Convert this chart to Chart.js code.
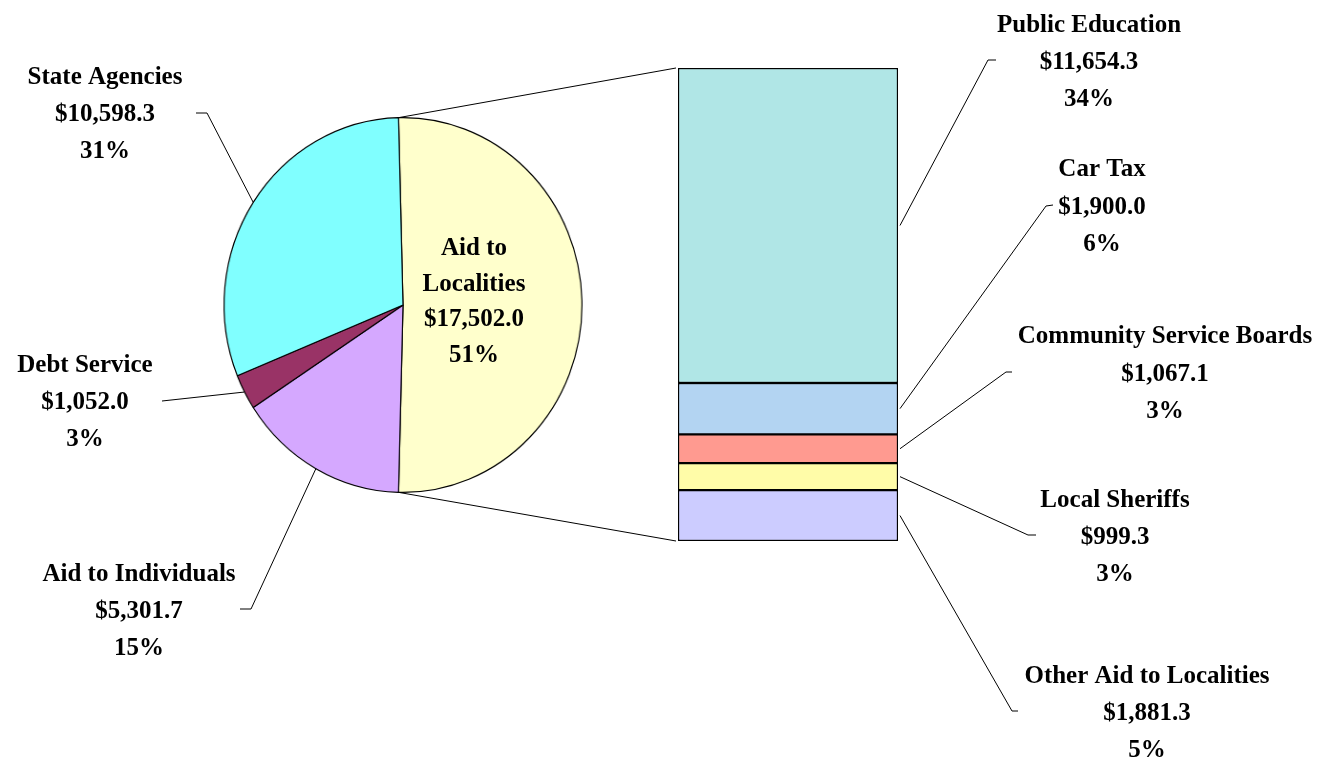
<!DOCTYPE html>
<html>
<head>
<meta charset="utf-8">
<title>Aid to Localities</title>
<script src="https://cdn.jsdelivr.net/npm/chart.js@4.4.1/dist/chart.umd.min.js"></script>
<style>
  html, body { margin: 0; padding: 0; background: #ffffff; }
  #wrap { position: relative; width: 1321px; height: 762px; overflow: hidden; }
  #wrap canvas { position: absolute; left: 0; top: 0; }
  /* el pie del original es un poco más alto que ancho */
  #pieChart { transform: scaleX(0.955); transform-origin: 403px 0; }
</style>
</head>
<body>
<div id="wrap">
  <canvas id="pieChart" width="1321" height="762"></canvas>
  <canvas id="barChart" width="1321" height="762"></canvas>
</div>
<script>
// ---- datos ----
const pieLabels = ["Aid to Localities", "Aid to Individuals", "Debt Service", "State Agencies"];
const pieValues = [17502.0, 5301.7, 1052.0, 10598.3];
const pieColors = ["#FFFFCC", "#D5A8FF", "#993366", "#80FFFF"];

// barra: de arriba hacia abajo, tal como se ve
const barLabels = ["Public Education", "Car Tax", "Community Service Boards", "Local Sheriffs", "Other Aid to Localities"];
const barValues = [11654.3, 1900.0, 1067.1, 999.3, 1881.3];
const barColors = ["#B0E6E6", "#B3D4F2", "#FF9A90", "#FFFCA8", "#CCCCFF"];

const PIE_SCALE_X = 0.955;
const FONT = "bold 25px 'Liberation Serif', 'Times New Roman', serif";

const grandTotal = pieValues.reduce((a, b) => a + b, 0);
const barTotal = barValues.reduce((a, b) => a + b, 0);

function money(v) {
  return "$" + v.toLocaleString("en-US", { minimumFractionDigits: 1, maximumFractionDigits: 1 });
}
function pct(v) {
  return Math.round((v / grandTotal) * 100) + "%";
}

// posición de los textos (centro x, línea base de la primera línea) y del codo de cada guía
const pieLabelPos = [
  { x: 474, y: 255, lh: 35.7, lines: ["Aid to", "Localities"], leader: null },
  { x: 139, y: 581, lh: 37, leader: [[240, 609], [251, 609]] },
  { x: 85, y: 372, lh: 37, leader: [[162, 401]] },
  { x: 105, y: 84, lh: 37, leader: [[196, 113], [207, 113]] },
];
const barLabelPos = [
  { x: 1089, y: 32, lh: 37, leader: [[996, 60], [988, 60]] },
  { x: 1102, y: 176, lh: 37.5, leader: [[1053, 205], [1046, 206]] },
  { x: 1165, y: 343, lh: 37.5, leader: [[1012, 372], [1006, 372]] },
  { x: 1115, y: 507, lh: 37, leader: [[1036, 535], [1028, 535]] },
  { x: 1147, y: 683, lh: 37, leader: [[1018, 711], [1012, 711]] },
];

// ---- pie ----
const aidShare = pieValues[0] / grandTotal;
const pieChart = new Chart(document.getElementById("pieChart"), {
  type: "pie",
  data: {
    labels: pieLabels,
    datasets: [{
      data: pieValues,
      backgroundColor: pieColors,
      borderColor: "#000000",
      borderWidth: 1.2,
    }],
  },
  options: {
    responsive: false,
    animation: false,
    // el trozo "Aid to Localities" queda centrado a la derecha
    rotation: -aidShare * 180 + 90,
    layout: { padding: { left: 215, top: 117, right: 730, bottom: 269 } },
    plugins: { legend: { display: false }, tooltip: { enabled: false } },
  },
});

// transforma un punto del pie al espacio de la página (por el scaleX del css)
function piePoint(arc, angle, r) {
  return {
    x: arc.x + Math.cos(angle) * r * PIE_SCALE_X,
    y: arc.y + Math.sin(angle) * r,
  };
}

function drawLabel(ctx, pos, lines) {
  ctx.fillStyle = "#000000";
  ctx.font = FONT;
  ctx.textAlign = "center";
  ctx.textBaseline = "alphabetic";
  lines.forEach((t, i) => ctx.fillText(t, pos.x, pos.y + i * pos.lh));
}

function drawLeader(ctx, points, end) {
  ctx.beginPath();
  ctx.moveTo(points[0][0], points[0][1]);
  for (let i = 1; i < points.length; i++) ctx.lineTo(points[i][0], points[i][1]);
  ctx.lineTo(end.x, end.y);
  ctx.strokeStyle = "#000000";
  ctx.lineWidth = 1;
  ctx.stroke();
}

const overlayPlugin = {
  id: "overlay",
  afterDraw(chart) {
    const ctx = chart.ctx;
    const arcs = pieChart.getDatasetMeta(0).data;
    ctx.save();

    // etiquetas y guías del pie
    arcs.forEach((arc, i) => {
      const pos = pieLabelPos[i];
      const lines = (pos.lines || [pieLabels[i]]).concat([money(pieValues[i]), pct(pieValues[i])]);
      drawLabel(ctx, pos, lines);
      if (pos.leader) {
        const mid = (arc.startAngle + arc.endAngle) / 2;
        drawLeader(ctx, pos.leader, piePoint(arc, mid, arc.outerRadius));
      }
    });

    // barras: el dataset 0 es el de abajo
    const n = barValues.length;
    const bars = [];
    for (let i = 0; i < n; i++) {
      bars.push(chart.getDatasetMeta(n - 1 - i).data[0]);
    }
    bars.forEach((bar, i) => {
      const top = Math.min(bar.y, bar.base);
      const bottom = Math.max(bar.y, bar.base);
      const pos = barLabelPos[i];
      drawLabel(ctx, pos, [barLabels[i], money(barValues[i]), pct(barValues[i])]);
      drawLeader(ctx, pos.leader, { x: bar.x + bar.width / 2 + 2, y: (top + bottom) / 2 });
    });

    // líneas que unen el pie con la barra
    const aid = arcs[0];
    const pTop = piePoint(aid, aid.startAngle, aid.outerRadius);
    const pBot = piePoint(aid, aid.endAngle, aid.outerRadius);
    const first = bars[0];
    const last = bars[n - 1];
    const left = first.x - first.width / 2;
    ctx.beginPath();
    ctx.moveTo(pTop.x, pTop.y);
    ctx.lineTo(left - 2, Math.min(first.y, first.base));
    ctx.moveTo(pBot.x, pBot.y);
    ctx.lineTo(left - 2, Math.max(last.y, last.base));
    ctx.strokeStyle = "#000000";
    ctx.lineWidth = 1;
    ctx.stroke();
    ctx.restore();
  },
};

// ---- barra apilada ----
const barDatasets = [];
for (let i = barValues.length - 1; i >= 0; i--) {
  barDatasets.push({
    label: barLabels[i],
    data: [barValues[i]],
    backgroundColor: barColors[i],
    borderColor: "#000000",
    borderWidth: 1.5,
    borderSkipped: false,
    barPercentage: 1,
    categoryPercentage: 1,
  });
}

new Chart(document.getElementById("barChart"), {
  type: "bar",
  data: { labels: ["Aid to Localities"], datasets: barDatasets },
  options: {
    responsive: false,
    animation: false,
    layout: { padding: { left: 678, top: 68, right: 423, bottom: 221 } },
    scales: {
      x: { display: false, stacked: true },
      y: { display: false, stacked: true, min: 0, max: barTotal },
    },
    plugins: { legend: { display: false }, tooltip: { enabled: false } },
  },
  plugins: [overlayPlugin],
});
</script>
</body>
</html>
